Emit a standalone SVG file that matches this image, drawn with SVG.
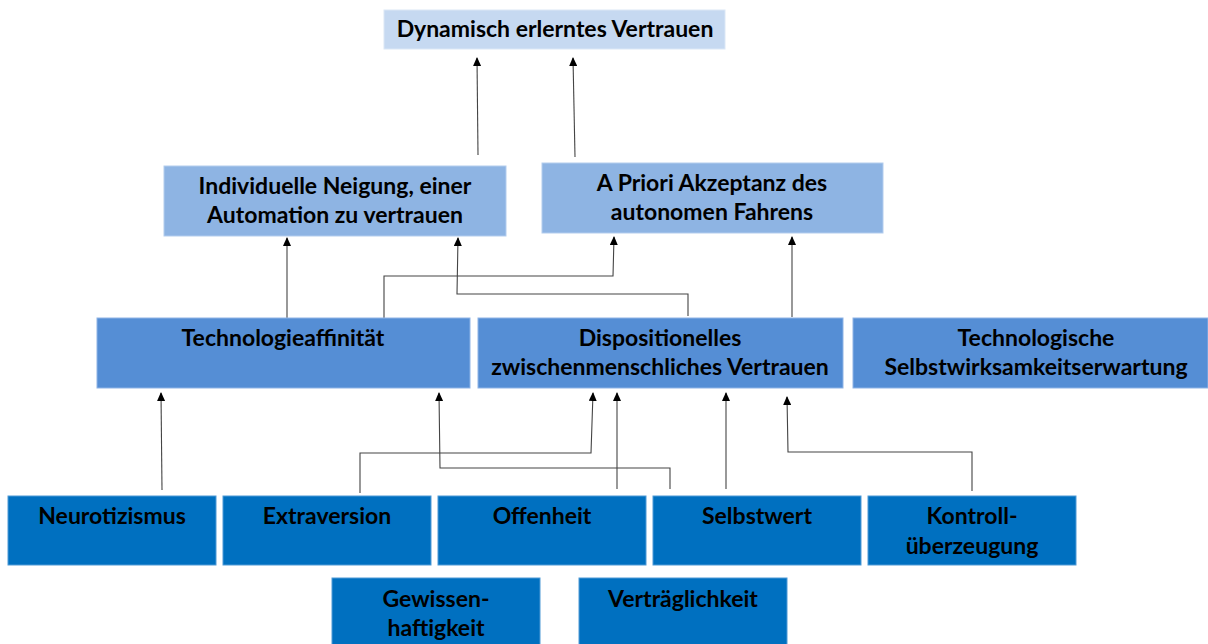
<svg xmlns="http://www.w3.org/2000/svg" width="1208" height="644" viewBox="0 0 1208 644">
<defs>
<marker id="ah" markerWidth="9" markerHeight="8" refX="8" refY="4" orient="auto" markerUnits="userSpaceOnUse" viewBox="0 0 9 8">
<path d="M0,0 L9,4 L0,8 Z" fill="#000"/>
</marker>
<style>
text{font-family:Lato,"Liberation Sans",sans-serif;font-weight:bold;font-size:23px;fill:#000;text-anchor:middle}
.l0{fill:#c6d9f1;stroke:#dbe7f6;stroke-width:1}
.l1{fill:#8eb4e3;stroke:#b3cdee;stroke-width:1}
.l2{fill:#558ed5;stroke:#8fb4e6;stroke-width:1}
.l3{fill:#0070c0;stroke:#4f9ad6;stroke-width:1}
.c{fill:none;stroke:#444;stroke-width:1.1;marker-end:url(#ah)}
</style>
</defs>
<rect width="1208" height="644" fill="#fff"/>
<g id="connectors">
<path class="c" d="M478,155 L477,58"/>
<path class="c" d="M575,157 L573,58"/>
<path class="c" d="M287,318 L287,238"/>
<path class="c" d="M384,318 L384,276 L613,276 L614,237"/>
<path class="c" d="M688,316 L688,294 L457,294 L458,238"/>
<path class="c" d="M792,317 L792,237"/>
<path class="c" d="M162,490 L161,393"/>
<path class="c" d="M360,493 L360,453 L591,453 L593,393"/>
<path class="c" d="M670,489 L670,468 L440,468 L439,393"/>
<path class="c" d="M617,489 L617,393"/>
<path class="c" d="M726,489 L726,393"/>
<path class="c" d="M972,491 L972,452 L788,452 L787,397"/>
</g>
<g id="n-dynamisch"><rect class="l0" x="384" y="10" width="341" height="39"/><text x="555" y="37">Dynamisch erlerntes Vertrauen</text></g>
<g id="n-individuelle"><rect class="l1" x="164" y="166" width="342" height="70"/><text x="335" y="194">Individuelle Neigung, einer</text><text x="335" y="223">Automation zu vertrauen</text></g>
<g id="n-apriori"><rect class="l1" x="542" y="163" width="341" height="70"/><text x="712" y="191">A Priori Akzeptanz des</text><text x="712" y="220">autonomen Fahrens</text></g>
<g id="n-techaff"><rect class="l2" x="97" y="318" width="373" height="70"/><text x="283" y="346">Technologieaffinität</text></g>
<g id="n-dispo"><rect class="l2" x="478" y="318" width="365" height="70"/><text x="660" y="346">Dispositionelles</text><text x="660" y="375">zwischenmenschliches Vertrauen</text></g>
<g id="n-techselbst"><rect class="l2" x="853" y="318" width="355" height="70"/><text x="1036" y="346">Technologische</text><text x="1036" y="375">Selbstwirksamkeitserwartung</text></g>
<g id="n-neuro"><rect class="l3" x="8" y="496" width="208" height="69"/><text x="112" y="524">Neurotizismus</text></g>
<g id="n-extra"><rect class="l3" x="223" y="496" width="208" height="69"/><text x="327" y="524">Extraversion</text></g>
<g id="n-offen"><rect class="l3" x="438" y="496" width="208" height="69"/><text x="542" y="524">Offenheit</text></g>
<g id="n-selbst"><rect class="l3" x="653" y="496" width="208" height="69"/><text x="757" y="524">Selbstwert</text></g>
<g id="n-kontroll"><rect class="l3" x="868" y="496" width="208" height="69"/><text x="972" y="524">Kontroll-</text><text x="972" y="554">überzeugung</text></g>
<g id="n-gewissen"><rect class="l3" x="332" y="578" width="208" height="70"/><text x="436" y="607">Gewissen-</text><text x="436" y="636">haftigkeit</text></g>
<g id="n-vertrag"><rect class="l3" x="579" y="578" width="208" height="70"/><text x="683" y="607">Verträglichkeit</text></g>
</svg>
